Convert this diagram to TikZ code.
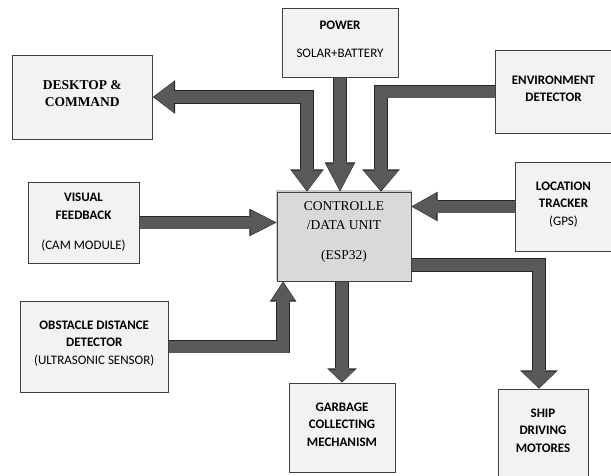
\documentclass[tikz,border=0pt]{standalone}
\usepackage{fontspec}
\setmainfont{Carlito}
\newfontfamily\timesfont{Liberation Serif}
\usetikzlibrary{arrows.meta,calc,shadows,backgrounds}

\definecolor{boxgray}{HTML}{F2F2F2}
\definecolor{unitgray}{HTML}{D9D9D9}
\definecolor{arrowgray}{HTML}{595959}

\tikzset{
  block/.style={draw=black!75, line width=0.8pt, fill=boxgray, align=center,
    font=\fontsize{13}{17.5}\selectfont\bfseries, text depth=6pt},
  unit/.style={block, fill=unitgray, font=\fontsize{13.5}{19}\selectfont\timesfont,
    general shadow={fill=black, opacity=0.2, shadow scale=1.02, shadow yshift=1pt}},
  arrowedge/.style={draw=black!85, line width=13.6pt, line join=miter},
  arrowbody/.style={draw=arrowgray, line width=12pt, line join=miter},
}

% thick block arrow: * = head at both ends, #2 head width, #3 head length, #4 path
\NewDocumentCommand{\blockarrow}{s m m m}{%
  \pgfmathsetmacro\edgew{#2+2.6}%
  \pgfmathsetmacro\edgel{#3+2.2}%
  \edef\edgetip{{Triangle[width=\edgew pt,length=\edgel pt,line width=0pt]}}%
  \edef\bodytip{{Triangle[width=#2pt,length=#3pt,line width=0pt]}}%
  \IfBooleanTF{#1}%
    {\edef\edgespec{\edgetip-\edgetip}\edef\bodyspec{\bodytip-\bodytip}%
     \def\bodyshorten{shorten <=1pt,shorten >=1pt}}%
    {\edef\edgespec{-\edgetip}\edef\bodyspec{-\bodytip}%
     \def\bodyshorten{shorten >=1pt}}%
  \edef\arrowpass{\noexpand\draw[arrowedge,arrows=\edgespec]}\arrowpass #4;
  \edef\arrowpass{\noexpand\draw[arrowbody,arrows=\bodyspec,\bodyshorten]}\arrowpass #4;
}

\begin{document}
\begin{tikzpicture}[x=1pt, y=-1pt]
  \useasboundingbox (0,0) rectangle (611,475);

  % Blocks around the unit
  \node[block, minimum width=116pt, minimum height=69pt, text depth=7pt] (pow) at (340,42.5)
    {POWER\\[11pt]{\mdseries SOLAR+BATTERY}};
  \node[block, minimum width=140.5pt, minimum height=84pt, font=\fontsize{13.5}{17}\selectfont\timesfont\bfseries] (desk) at (82.25,97)
    {DESKTOP \&\\COMMAND};
  \node[block, minimum width=117pt, minimum height=83pt] (env) at (553.5,91.5)
    {ENVIRONMENT\\DETECTOR};
  \node[block, minimum width=111pt, minimum height=81pt, text depth=3pt] (vis) at (83.5,222.5)
    {VISUAL\\FEEDBACK\\[12.5pt]{\mdseries (CAM MODULE)}};
  \node[block, minimum width=97pt, minimum height=89pt, text depth=6.5pt] (loc) at (563.5,206.5)
    {LOCATION\\TRACKER\\{\mdseries (GPS)}};
  \node[block, minimum width=148.5pt, minimum height=91pt, text depth=8.5pt] (obst) at (94.25,346.5)
    {OBSTACLE DISTANCE\\DETECTOR\\{\mdseries (ULTRASONIC SENSOR)}};
  \node[block, minimum width=106pt, minimum height=89pt] (garb) at (342,427.5)
    {GARBAGE\\COLLECTING\\MECHANISM};
  \node[block, minimum width=90pt, minimum height=88pt, text depth=5pt] (ship) at (543,433)
    {SHIP\\DRIVING\\MOTORES};

  % Main unit
  \node[unit, minimum width=134pt, minimum height=89pt, text depth=12.5pt] (ctrl) at (344,236.5)
    {CONTROLLE\\/DATA UNIT\\[11pt](ESP32)};

  % Arrows
  \begin{scope}[on background layer]
    \blockarrow*{31}{20}{(desk.east) -| ($(ctrl.north)+(-37,0)$)}
    \blockarrow{28}{27}{(pow.south) -- (pow.south |- ctrl.north)}
    \blockarrow{35}{20}{(env.west) -| ($(ctrl.north)+(37,0)$)}
    \blockarrow{25}{25}{(vis.east) -- (vis.east -| ctrl.west)}
    \blockarrow{27}{24}{(loc.west) -- (loc.west -| ctrl.east)}
    \blockarrow{24}{18}{(obst.east) -| ($(ctrl.south west)+(6.5,0)$)}
    \blockarrow{27}{12}{(ctrl.south -| garb.north) -- (garb.north)}
    \blockarrow{35}{16}{($(ctrl.east)+(0,28.5)$) -| ($(ship.north)+(-4,0)$)}
  \end{scope}
\end{tikzpicture}
\end{document}
